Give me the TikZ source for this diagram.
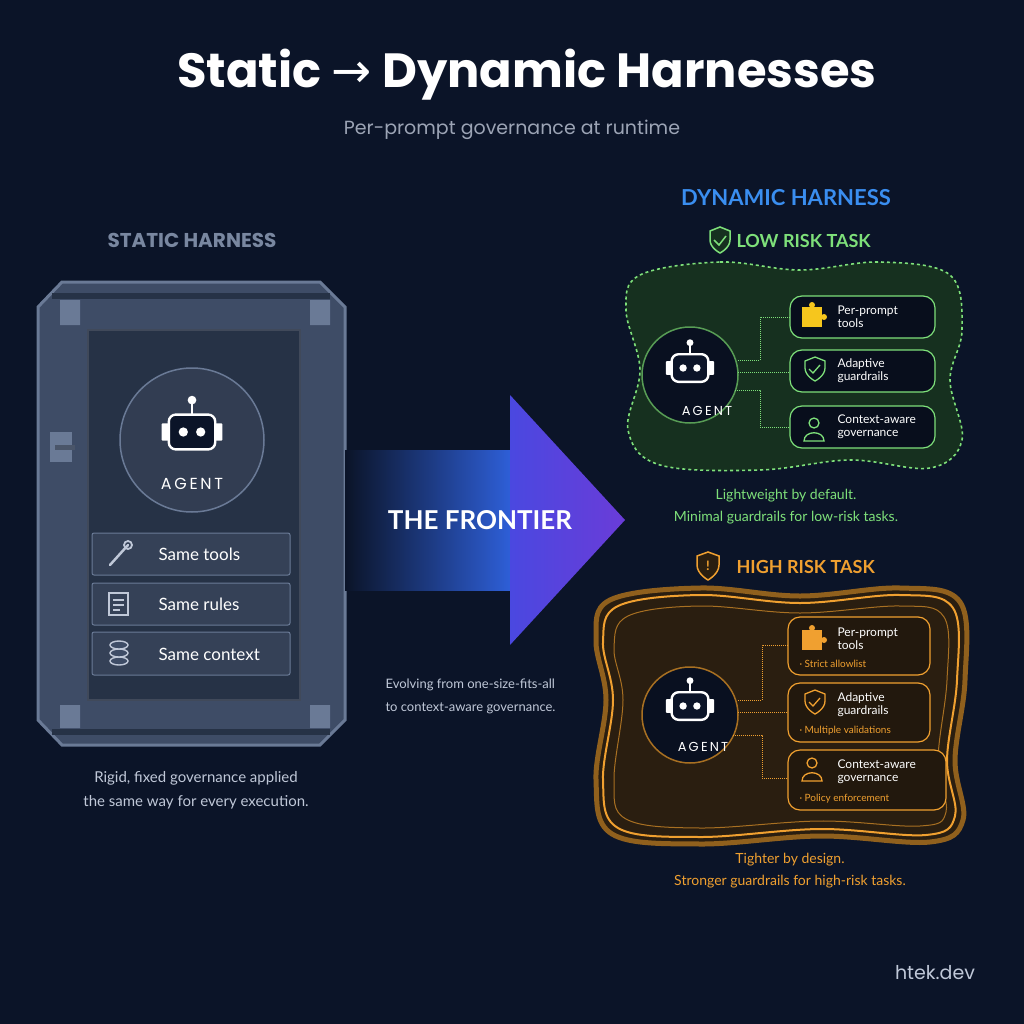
\documentclass[tikz,border=0pt]{standalone}
\usepackage{fontspec}
\setmainfont{Lato}
\newfontfamily\titlefont{Poppins}
\newfontfamily\symfont{DejaVu Sans}
\usetikzlibrary{shapes.geometric,shadings,fadings}
\definecolor{bg}{HTML}{0B1428}
\definecolor{door}{HTML}{3E4C66}
\definecolor{doorlt}{HTML}{6A7A96}
\definecolor{doordk}{HTML}{263246}
\definecolor{grn}{HTML}{7EE07A}
\definecolor{grnfill}{HTML}{16301F}
\definecolor{org}{HTML}{F0A030}
\definecolor{orgfill}{HTML}{2A1E10}
\definecolor{dblue}{HTML}{3A8EF0}
\definecolor{txt}{HTML}{C0C8D8}
\definecolor{arrA}{HTML}{2E5FD8}
\definecolor{arrB}{HTML}{4A48E0}
\definecolor{arrC}{HTML}{6A3CD8}
\tikzset{
  robot/.pic={
    \draw[white,line width=2.4pt,fill=bg,rounded corners=7] (-16,-12) rectangle (16,12);
    \fill[white,rounded corners=1] (-21,-6) rectangle (-16,6);
    \fill[white,rounded corners=1] (16,-6) rectangle (21,6);
    \draw[white,line width=2pt] (0,-12) -- (0,-20);
    \fill[white] (0,-22) circle (3);
    \fill[white] (-6,0) circle (3.2) (6,0) circle (3.2);
  },
  btn/.style={draw=doorlt,fill=door!85!black,line width=1pt,rounded corners=2},
  tag/.style={draw=#1,line width=1.2pt,rounded corners=12,fill=bg!70!black},
  conn/.style={densely dotted,line width=1pt,draw=#1},
  lbl/.style={font=\fontsize{13}{15}\selectfont,text=white,align=left,anchor=west},
}
\begin{document}
\begin{tikzpicture}[x=1pt,y=-1pt]
\fill[bg] (0,0) rectangle (1024,1024);
\useasboundingbox (0,0) rectangle (1024,1024);
% title
\node (title) at (527,75) {\titlefont\bfseries\fontsize{48}{54}\selectfont\color{white}Static {\symfont\mdseries →} Dynamic Harnesses};
\node (sub) at (512,130) {\titlefont\fontsize{19}{22}\selectfont\color{txt!80!bg}Per-prompt governance at runtime};
% static
\node (sth) at (192,240) {\titlefont\bfseries\fontsize{20}{24}\selectfont\color{doorlt!90!white}STATIC HARNESS};
\draw[fill=door,draw=doorlt,line width=3pt] (62,282)--(320,282)--(345,307)--(345,720)--(320,745)--(62,745)--(38,720)--(38,307)--cycle;
\draw[fill=doordk,draw=doorlt!60!black,line width=2pt] (88,330) rectangle (300,700);
\draw[doordk,line width=6pt] (52,296)--(330,296) (52,732)--(330,732);
\fill[doorlt] (60,300) rectangle (80,325) (310,300) rectangle (330,325) (60,705) rectangle (80,728) (310,705) rectangle (330,728);
\fill[doorlt] (50,432) rectangle (72,462);
\fill[doorlt!70!black] (55,445) rectangle (75,450);
\draw[fill=door!80!black,draw=doorlt,line width=1.5pt] (192,440) circle (72);
\pic[scale=1.45] (rob1) at (192,432) {robot};
\node (ag1) at (192,484) {\titlefont\fontsize{16}{18}\selectfont\color{white}A\,G\,E\,N\,T};
\draw[btn] (92,533) rectangle (290,575); \node[lbl] (b1) at (155,554) {\fontsize{17}{20}\selectfont Same tools};
\draw[btn] (92,583) rectangle (290,625); \node[lbl] (b2) at (155,604) {\fontsize{17}{20}\selectfont Same rules};
\draw[btn] (92,632) rectangle (290,675); \node[lbl] (b3) at (155,654) {\fontsize{17}{20}\selectfont Same context};
\draw[txt,line width=2.5pt,line cap=round] (110,565)--(128,545);
\draw[txt,line width=1.8pt] (128,545) circle (4);
\draw[txt,line width=1.5pt] (109,593) rectangle (128,615);
\draw[txt,line width=1.2pt] (113,600)--(124,600) (113,605)--(124,605) (113,610)--(120,610);
\foreach \yy in {661,653,645}{\draw[txt,fill=door,line width=1.4pt] (119,\yy) ellipse (9 and 4);}
\node (cap1) at (196,790) {\fontsize{15}{24}\selectfont\color{txt}\begin{tabular}{c}Rigid, fixed governance applied\\the same way for every execution.\end{tabular}};
% arrow
\shade[left color=bg, right color=arrA] (345,450) rectangle (511,590);
\shade[left color=arrB,right color=arrC] (510,395)--(625,520)--(510,645)--cycle;
\node (fr) at (480,520) {\bfseries\fontsize{26}{30}\selectfont\color{white}THE FRONTIER};
\node[align=left,anchor=west] (evo) at (382,695) {\fontsize{13}{23}\selectfont\color{txt}\begin{tabular}{@{}l}Evolving from one-size-fits-all\\to context-aware governance.\end{tabular}};
% dynamic
\node (dh) at (786,198) {\bfseries\fontsize{22}{26}\selectfont\color{dblue}DYNAMIC HARNESS};
\draw[grn,line width=1.5pt,fill=grnfill] (710,231)--(720,227)--(730,231)--(730,240) .. controls (730,248) and (720,253) .. (720,253) .. controls (720,253) and (710,248) .. (710,240) -- cycle;
\draw[grn,line width=1.5pt] (714,240)--(719,245)--(726,236);
\node[anchor=west] (lr) at (733,241) {\bfseries\fontsize{18}{22}\selectfont\color{grn}LOW RISK TASK};
\draw[grn,dashed,line width=1.6pt,fill=grnfill] plot[smooth cycle,tension=0.6] coordinates{(640,275)(720,262)(800,270)(880,262)(950,275)(962,330)(950,380)(962,440)(930,468)(850,460)(760,470)(660,465)(628,430)(640,370)(626,310)};
\draw[grn!70!black,line width=1.5pt,fill=bg!80!black] (690,375) circle (48);
\pic[scale=1.15] (rob2) at (690,368) {robot};
\node (ag2) at (707,411) {\titlefont\fontsize{13}{15}\selectfont\color{white}A\,G\,E\,N\,T};
\foreach \y/\t in {317/{Per-prompt\\tools},371/{Adaptive\\guardrails},427/{Context-aware\\governance}}{
  \draw[tag=grn] (790,\y-21) rectangle (935,\y+21);
  \node[lbl,font=\fontsize{12}{13}\selectfont] at (834,\y) {\t};
}
\draw[conn=grn] (738,360)--(760,360)--(760,317)--(790,317);
\draw[conn=grn] (738,372)--(790,372);
\draw[conn=grn] (735,390)--(760,390)--(760,427)--(790,427);
\fill[org!60!yellow] (802,307) rectangle (822,327); \fill[org!60!yellow] (812,305) circle (3) (824,317) circle (3);
\draw[grn,line width=1.3pt] (805,361)--(815,357)--(825,361)--(825,368) .. controls (825,376) and (815,381) .. (815,381) .. controls (815,381) and (805,376) .. (805,368)--cycle;
\draw[grn,line width=1.3pt] (809,369)--(813,373)--(820,365);
\draw[grn,line width=1.3pt] (814,423) circle (5) (804,441) .. controls (804,430) and (824,430) .. (824,441) -- cycle;
\node (lw) at (786,506) {\fontsize{14}{22}\selectfont\color{grn}\begin{tabular}{c}Lightweight by default.\\Minimal guardrails for low-risk tasks.\end{tabular}};
% high risk
\draw[org,line width=1.5pt,fill=orgfill] (697,556)--(708,552)--(719,556)--(719,565) .. controls (719,574) and (708,580) .. (708,580) .. controls (708,580) and (697,574) .. (697,565) -- cycle;
\node (ex) at (708,566) {\bfseries\fontsize{13}{14}\selectfont\color{org}!};
\node[anchor=west] (hr) at (733,567) {\bfseries\fontsize{18}{22}\selectfont\color{org}HIGH RISK TASK};
\draw[org!60!black,line width=5pt,fill=orgfill] plot[smooth cycle,tension=0.6] coordinates{(610,600)(700,588)(800,596)(900,588)(960,602)(965,680)(955,760)(963,820)(930,842)(820,836)(700,844)(612,834)(596,780)(606,700)(596,640)};
\draw[org,line width=2pt] plot[smooth cycle,tension=0.6] coordinates{(618,606)(700,595)(800,603)(900,595)(953,608)(957,680)(947,760)(955,816)(926,835)(820,829)(700,837)(618,828)(603,780)(613,700)(603,642)};
\draw[org!70!black,line width=1pt] plot[smooth cycle,tension=0.6] coordinates{(628,616)(700,606)(800,613)(900,606)(944,617)(947,680)(938,760)(946,812)(920,826)(820,821)(700,828)(626,819)(614,780)(623,700)(614,648)};
\draw[org!70!black,line width=1.5pt,fill=bg!80!black] (690,715) circle (48);
\pic[scale=1.15] (rob3) at (690,706) {robot};
\node (ag3) at (703,747) {\titlefont\fontsize{13}{15}\selectfont\color{white}A\,G\,E\,N\,T};
\foreach \ya/\yb/\xb/\t/\s in {617/675/930/{Per-prompt\\tools}/Strict allowlist,683/742/930/{Adaptive\\guardrails}/Multiple validations,750/810/946/{Context-aware\\governance}/Policy enforcement}{
  \draw[tag=org,fill=orgfill!80!black] (788,\ya) rectangle (\xb,\yb);
  \node[lbl,font=\fontsize{12}{13}\selectfont] at (834,\ya+22) {\t};
  \node[lbl,font=\fontsize{10}{12}\selectfont,text=org] at (796,\yb-11) {· \s};
}
\draw[conn=org] (738,700)--(762,700)--(762,645)--(788,645);
\draw[conn=org] (738,712)--(788,712);
\draw[conn=org] (733,735)--(762,735)--(762,778)--(788,778);
\fill[org] (802,630) rectangle (822,650); \fill[org] (812,628) circle (3) (824,640) circle (3);
\draw[org,line width=1.3pt] (805,694)--(815,690)--(825,694)--(825,701) .. controls (825,709) and (815,714) .. (815,714) .. controls (815,714) and (805,709) .. (805,701)--cycle;
\draw[org,line width=1.3pt] (809,702)--(813,706)--(820,698);
\draw[org,line width=1.3pt] (812,763) circle (5) (802,781) .. controls (802,770) and (822,770) .. (822,781) -- cycle;
\node (tb) at (790,870) {\fontsize{14}{22}\selectfont\color{org}\begin{tabular}{c}Tighter by design.\\Stronger guardrails for high-risk tasks.\end{tabular}};
\node (brand) at (935,973) {\titlefont\fontsize{19}{22}\selectfont\color{txt}htek.dev};
\end{tikzpicture}
\end{document}
